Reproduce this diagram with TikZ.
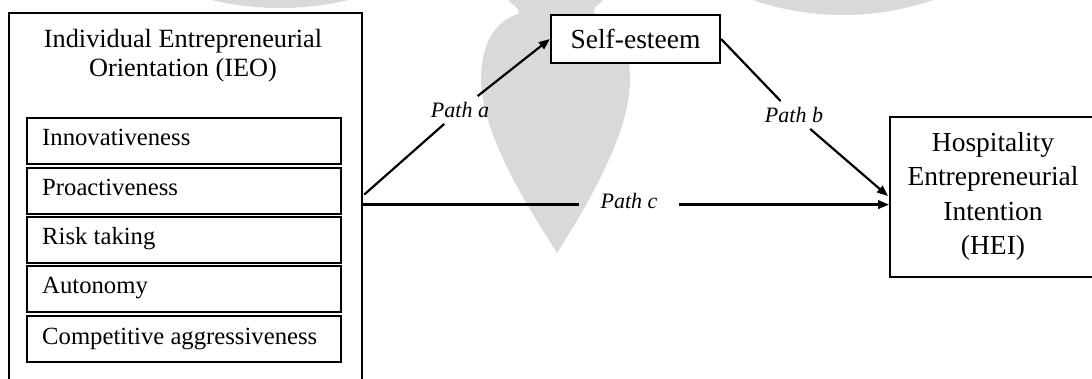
\documentclass[tikz,border=0pt]{standalone}
\usepackage{fontspec}
\setmainfont{Liberation Serif}
\usetikzlibrary{arrows.meta,calc}
\begin{document}
\begin{tikzpicture}[x=1pt,y=-1pt,
  wm/.style={fill=black!15},
  frame/.style={draw=black, line width=2.2pt},
  itembox/.style={draw=black, line width=2pt, minimum width=314pt, minimum height=46pt, anchor=north west, inner sep=0pt},
  itemtext/.style={anchor=base west, inner sep=0pt, font=\fontsize{24.7}{29}\selectfont},
  pathlabel/.style={inner sep=6pt, font=\fontsize{22}{26}\selectfont\itshape},
  conn/.style={draw=black, line width=2.2pt},
  arr/.style={conn, -{Triangle[length=11pt,width=8.5pt]}}]
\useasboundingbox (0,0) rectangle (1092,379);
\clip (0,0) rectangle (1092,379);
% watermark
\fill[wm] (280,-289) circle (297);
\fill[wm] (843,-262) circle (277);
\fill[wm] (508,0) .. controls (514,6) and (522,10) .. (518,14) .. controls (498,20) and (481,40) .. (481,80)
  .. controls (482,140) and (538,222) .. (557,253) .. controls (576,222) and (630,140) .. (630,80)
  .. controls (630,40) and (614,20) .. (596,14) .. controls (590,10) and (597,6) .. (603,0) -- cycle;
% IEO box
\node[frame, fill=none, minimum width=353pt, minimum height=383pt, anchor=north west, inner sep=0pt] (ieo) at (8,12) {};
\node[align=center, font=\fontsize{26.3}{29}\selectfont, anchor=base] (ieot) at (183,77) {Individual Entrepreneurial\\Orientation (IEO)};
\node[itembox] (i1) at (26,117) {};
\node[itembox] (i2) at (26,167) {};
\node[itembox] (i3) at (26,216) {};
\node[itembox] (i4) at (26,265) {};
\node[itembox] (i5) at (26,315) {};
\node[itemtext] (t1) at (42,146) {Innovativeness};
\node[itemtext] (t2) at (42,196) {Proactiveness};
\node[itemtext] (t3) at (42,245) {Risk taking};
\node[itemtext] (t4) at (42,294) {Autonomy};
\node[itemtext] (t5) at (42,344) {Competitive aggressiveness};
% Self-esteem
\node[frame, fill=white, minimum width=169pt, minimum height=48pt, inner sep=0pt, font=\fontsize{27.5}{30}\selectfont] (se) at (635.5,39) {Self-esteem};
% HEI
\node[frame, minimum width=230pt, minimum height=160pt, anchor=north west, inner sep=0pt] (hei) at (889,116) {};
\node[align=center, font=\fontsize{27.5}{34.5}\selectfont, anchor=base] (heit) at (993,255) {Hospitality\\Entrepreneurial\\Intention\\(HEI)};
% labels
\node[pathlabel] (pa) at (460,110) {Path a};
\node[pathlabel] (pb) at (794,115) {Path b};
\node[pathlabel, inner xsep=21pt] (pc) at (629,201) {Path c};
% connectors
\draw[conn] ($(ieo.east)+(1,-10)$) -- (pa);
\draw[arr] (pa) -- (se.west);
\draw[conn] (se.east) -- (pb);
\draw[arr] (pb) -- ($(hei.west)+(-1,-1)$);
\draw[conn] (ieo.east) -- (pc.west |- ieo.east);
\draw[arr] (pc.east |- ieo.east) -- (hei.west |- ieo.east);
\end{tikzpicture}
\end{document}
